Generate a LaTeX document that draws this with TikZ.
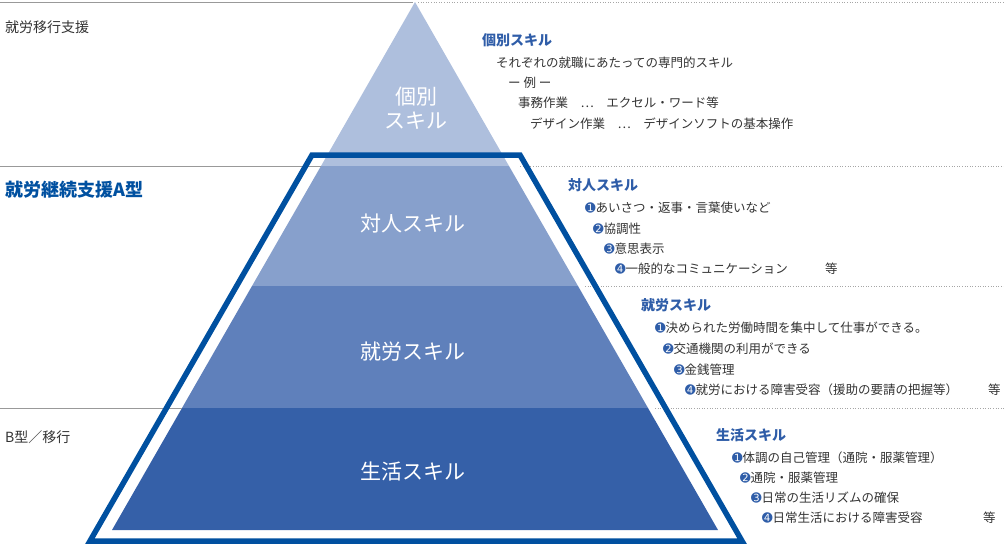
\documentclass[tikz,border=0pt]{standalone}
\usepackage{fontspec}
\setmainfont{Noto Sans CJK JP}
\newfontfamily\dv{DejaVu Sans}
\definecolor{c0}{HTML}{AEBFDD}
\definecolor{c1}{HTML}{87A0CC}
\definecolor{c2}{HTML}{5F80BB}
\definecolor{c3}{HTML}{3560A8}
\definecolor{ob}{HTML}{0050A0}
\definecolor{hb}{HTML}{2F5DA8}
\definecolor{tx}{HTML}{333333}
\tikzset{
 sl/.style={draw=gray!80,line width=0.6pt},
 dl/.style={draw=gray!70,line width=0.6pt,dotted},
 lab/.style={font=\fontsize{21}{24}\selectfont,text=white,align=center},
 hd/.style={anchor=west,font=\bfseries\fontsize{14}{16}\selectfont,text=hb,inner sep=0},
 it/.style={anchor=west,font=\fontsize{12.5}{14}\selectfont,text=tx,inner sep=0},
}
\newcommand{\nb}[1]{{\dv\color{hb}#1}}
\begin{document}
\begin{tikzpicture}[x=1pt,y=-1pt]
\useasboundingbox (0,0) rectangle (1004,546);
% bands
\fill[c0] (415,2) -- (321,166) -- (509,166) -- cycle;
\fill[c1] (321,166) -- (252,286) -- (578,286) -- (509,166) -- cycle;
\fill[c2] (252,286) -- (182,408) -- (648,408) -- (578,286) -- cycle;
\fill[c3] (182,408) -- (112,530) -- (718,530) -- (648,408) -- cycle;
% lines
\draw[sl] (0,2) -- (413,2); \draw[dl] (418,2) -- (1004,2);
\draw[sl] (0,166) -- (321,166); \draw[dl] (520,166) -- (1004,166);
\draw[dl] (585,286) -- (1004,286);
\draw[sl] (0,408) -- (182,408); \draw[dl] (655,408) -- (1004,408);
% outline
\draw[ob,line width=5.5pt,line join=miter] (312,155) -- (520,155) -- (742,541) -- (90,541) -- cycle;
% pyramid labels
\node[lab] (p0) at (416,108) {個別\\スキル};
\node[lab] (p1) at (413,224) {対人スキル};
\node[lab] (p2) at (413,352) {就労スキル};
\node[lab] (p3) at (413,472) {生活スキル};
% left labels
\node[it,font=\fontsize{14}{16}\selectfont] (l0) at (5,27) {就労移行支援};
\node[hd,font=\bfseries\fontsize{18}{20}\selectfont,text=ob] (l1) at (5,190) {就労継続支援A型};
\node[it,font=\fontsize{14}{16}\selectfont] (l2) at (5,437) {B型／移行};
% individual
\node[hd] (h0) at (482,40) {個別スキル};
\node[it] (a1) at (496,63) {それぞれの就職にあたっての専門的スキル};
\node[it] (a2) at (508,83) {ー 例 ー};
\node[it] (a3) at (518,103) {事務作業\quad …\quad エクセル・ワード等};
\node[it] (a4) at (530,124) {デザイン作業\quad …\quad デザインソフトの基本操作};
% interpersonal
\node[hd] (h1) at (568,185) {対人スキル};
\node[it] (b1) at (585,208) {\nb{➊}あいさつ・返事・言葉使いなど};
\node[it] (b2) at (593,229) {\nb{➋}協調性};
\node[it] (b3) at (604,249) {\nb{➌}意思表示};
\node[it] (b4) at (615,269) {\nb{➍}一般的なコミュニケーション};
\node[it] (b5) at (825,269) {等};
% work
\node[hd] (h2) at (641,305) {就労スキル};
\node[it] (c1) at (655,328) {\nb{➊}決められた労働時間を集中して仕事ができる。};
\node[it] (c2) at (663,349) {\nb{➋}交通機関の利用ができる};
\node[it] (c3) at (674,370) {\nb{➌}金銭管理};
\node[it] (c4) at (685,390) {\nb{➍}就労における障害受容（援助の要請の把握等）};
\node[it] (c5) at (988,390) {等};
% life
\node[hd] (h3) at (716,435) {生活スキル};
\node[it] (d1) at (732,458) {\nb{➊}体調の自己管理（通院・服薬管理）};
\node[it] (d2) at (740,478) {\nb{➋}通院・服薬管理};
\node[it] (d3) at (751,498) {\nb{➌}日常の生活リズムの確保};
\node[it] (d4) at (762,518) {\nb{➍}日常生活における障害受容};
\node[it] (d5) at (983,518) {等};
\end{tikzpicture}
\end{document}
